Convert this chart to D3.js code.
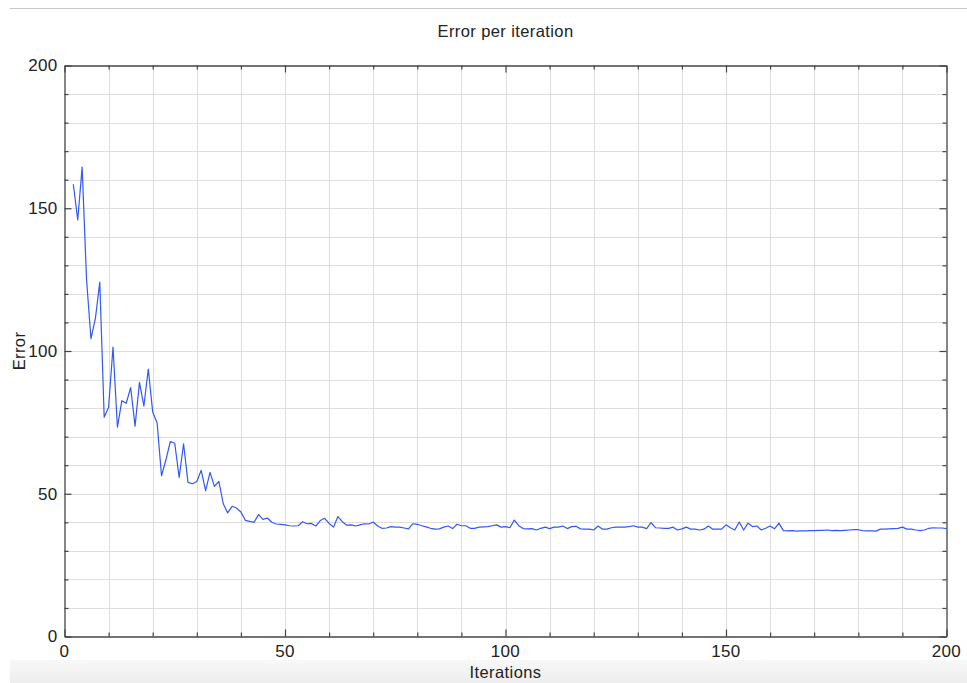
<!DOCTYPE html>
<html>
<head>
<meta charset="utf-8">
<script src="https://cdn.jsdelivr.net/npm/d3@7"></script>
<style>
  html, body { margin: 0; padding: 0; background: #fff; }
  svg { display: block; font-family: "Liberation Sans", Arial, sans-serif; }
</style>
</head>
<body>
<svg id="chart" width="967" height="683"></svg>
<script>
// Data
const chartTitle = 'Error per iteration';
const xLabel = 'Iterations';
const yLabel = 'Error';
const firstIteration = 2;
const errorValues = [
    158.4, 145.9, 164.4, 125.0, 104.3, 111.3, 124.1, 76.8, 80.3,            // 2-10
    101.4, 73.3, 82.6, 81.7, 87.2, 73.7, 89.0, 80.7, 93.7, 78.6,            // 11-20
    74.8, 56.3, 61.9, 68.3, 67.7, 55.7, 67.5, 54.0, 53.5, 54.3,             // 21-30
    58.2, 51.1, 57.5, 52.6, 54.3, 46.5, 43.3, 45.6, 45.0, 43.6,             // 31-40
    40.7, 40.3, 40.0, 42.7, 41.0, 41.5, 40.0, 39.4, 39.3, 39.1,             // 41-50
    38.8, 38.7, 38.8, 40.2, 39.5, 39.6, 38.7, 40.6, 41.4, 39.6,             // 51-60
    38.3, 42.0, 40.2, 39.0, 39.1, 38.7, 39.1, 39.5, 39.4, 40.1,             // 61-70
    38.7, 37.9, 38.0, 38.5, 38.3, 38.3, 38.0, 37.7, 39.5, 39.3,             // 71-80
    38.8, 38.4, 37.9, 37.6, 37.7, 38.3, 38.7, 37.8, 39.3, 38.8,             // 81-90
    38.8, 37.9, 37.9, 38.3, 38.4, 38.5, 38.8, 39.1, 38.3, 38.5,             // 91-100
    38.1, 40.8, 38.8, 37.8, 37.7, 37.8, 37.3, 37.9, 38.3, 37.8,             // 101-110
    38.3, 38.3, 38.7, 37.8, 38.5, 38.6, 37.7, 37.6, 37.6, 37.3,             // 111-120
    38.7, 37.6, 37.6, 38.1, 38.3, 38.3, 38.3, 38.5, 38.8, 38.3,             // 121-130
    38.3, 37.8, 39.9, 38.1, 38.0, 37.9, 37.9, 38.3, 37.3, 37.7,             // 131-140
    38.3, 37.6, 37.6, 37.3, 37.6, 38.7, 37.6, 37.6, 37.6, 39.1,             // 141-150
    38.1, 37.3, 40.1, 37.3, 39.7, 38.5, 38.7, 37.3, 37.9, 38.7,             // 151-160
    37.7, 39.7, 37.1, 37.0, 37.1, 36.9, 37.0, 37.0, 37.1, 37.1,             // 161-170
    37.2, 37.2, 37.3, 37.1, 37.2, 37.1, 37.2, 37.3, 37.4, 37.4,             // 171-180
    37.1, 37.0, 37.0, 36.9, 37.6, 37.6, 37.7, 37.8, 37.9, 38.3,             // 181-190
    37.6, 37.6, 37.3, 37.1, 37.3, 37.9, 38.1, 38.0, 38.0, 37.8              // 191-200
];
const xDomain = [0, 200];
const yDomain = [0, 200];
const labelTicks = [0, 50, 100, 150, 200];
const gridStep = 10;

const svg = d3.select('#chart');

// Plot area
const plotLeft = 64.5, plotRight = 946.5, plotTop = 65.5, plotBottom = 636.5;

const x = d3.scaleLinear().domain(xDomain).range([plotLeft, plotRight]);
const y = d3.scaleLinear().domain(yDomain).range([plotBottom, plotTop]);

const gridValues = d3.range(xDomain[0], xDomain[1] + 1, gridStep);

// Thin line at the very top
svg.append('line')
    .attr('x1', 10).attr('x2', 967)
    .attr('y1', 8.5).attr('y2', 8.5)
    .attr('stroke', '#c8c8c8');

// Grey band at the bottom
const defs = svg.append('defs');
const grad = defs.append('linearGradient')
    .attr('id', 'band').attr('x1', 0).attr('x2', 0).attr('y1', 0).attr('y2', 1);
grad.append('stop').attr('offset', '0%').attr('stop-color', '#f8f8f8');
grad.append('stop').attr('offset', '100%').attr('stop-color', '#ededed');
svg.append('rect')
    .attr('x', 10).attr('y', 660)
    .attr('width', 957).attr('height', 23)
    .attr('fill', 'url(#band)');

// Grid
const grid = svg.append('g').attr('stroke', '#dedede').attr('stroke-width', 1);
grid.selectAll('line.vx')
    .data(gridValues.filter(v => v > xDomain[0] && v < xDomain[1]))
    .join('line')
    .attr('x1', d => Math.round(x(d)) + 0.5).attr('x2', d => Math.round(x(d)) + 0.5)
    .attr('y1', plotTop).attr('y2', plotBottom);
grid.selectAll('line.hy')
    .data(gridValues.filter(v => v > yDomain[0] && v < yDomain[1]))
    .join('line')
    .attr('y1', d => Math.round(y(d)) + 0.5).attr('y2', d => Math.round(y(d)) + 0.5)
    .attr('x1', plotLeft).attr('x2', plotRight);

// Series
const line = d3.line()
    .x((d, i) => x(firstIteration + i))
    .y(d => y(d));

svg.append('path')
    .datum(errorValues)
    .attr('fill', 'none')
    .attr('stroke', '#3358f7')
    .attr('stroke-width', 1.2)
    .attr('stroke-linejoin', 'round')
    .attr('d', line);

// Axes (inward ticks on all four sides)
const tickLen = d => (d % 50 === 0 ? 7 : 4);
const fmtNone = () => '';

function styleAxis(g) {
    g.select('.domain').attr('stroke', '#444').attr('stroke-width', 1.3);
    g.selectAll('.tick line').attr('stroke', '#444').attr('stroke-width', 1.2);
}

svg.append('g')
    .attr('transform', `translate(0,${plotBottom})`)
    .call(d3.axisBottom(x).tickValues(gridValues).tickSizeOuter(0).tickFormat(fmtNone))
    .call(g => g.selectAll('.tick line').attr('y2', d => -tickLen(d)))
    .call(styleAxis);

svg.append('g')
    .attr('transform', `translate(0,${plotTop})`)
    .call(d3.axisTop(x).tickValues(gridValues).tickSizeOuter(0).tickFormat(fmtNone))
    .call(g => g.selectAll('.tick line').attr('y2', d => tickLen(d)))
    .call(styleAxis);

svg.append('g')
    .attr('transform', `translate(${plotLeft},0)`)
    .call(d3.axisLeft(y).tickValues(gridValues).tickSizeOuter(0).tickFormat(fmtNone))
    .call(g => g.selectAll('.tick line').attr('x2', d => tickLen(d)))
    .call(styleAxis);

svg.append('g')
    .attr('transform', `translate(${plotRight},0)`)
    .call(d3.axisRight(y).tickValues(gridValues).tickSizeOuter(0).tickFormat(fmtNone))
    .call(g => g.selectAll('.tick line').attr('x2', d => -tickLen(d)))
    .call(styleAxis);

// Tick labels
svg.append('g')
    .selectAll('text')
    .data(labelTicks)
    .join('text')
    .attr('x', d => x(d))
    .attr('y', 657)
    .attr('text-anchor', 'middle')
    .attr('font-size', 17)
    .attr('letter-spacing', 0.3)
    .attr('fill', '#222')
    .text(d => d);

svg.append('g')
    .selectAll('text')
    .data(labelTicks)
    .join('text')
    .attr('x', plotLeft - 7)
    .attr('y', d => y(d))
    .attr('dy', '0.35em')
    .attr('text-anchor', 'end')
    .attr('font-size', 17)
    .attr('letter-spacing', 0.3)
    .attr('fill', '#222')
    .text(d => d);

// Titles
svg.append('text')
    .attr('x', (plotLeft + plotRight) / 2)
    .attr('y', 37)
    .attr('text-anchor', 'middle')
    .attr('font-size', 16.5)
    .attr('letter-spacing', 0.4)
    .attr('fill', '#222')
    .text(chartTitle);

svg.append('text')
    .attr('x', (plotLeft + plotRight) / 2)
    .attr('y', 678)
    .attr('text-anchor', 'middle')
    .attr('font-size', 16.5)
    .attr('letter-spacing', 0.4)
    .attr('fill', '#222')
    .text(xLabel);

svg.append('text')
    .attr('transform', `translate(25,${(plotTop + plotBottom) / 2}) rotate(-90)`)
    .attr('text-anchor', 'middle')
    .attr('font-size', 16.5)
    .attr('letter-spacing', 0.4)
    .attr('fill', '#222')
    .text(yLabel);
</script>
</body>
</html>
